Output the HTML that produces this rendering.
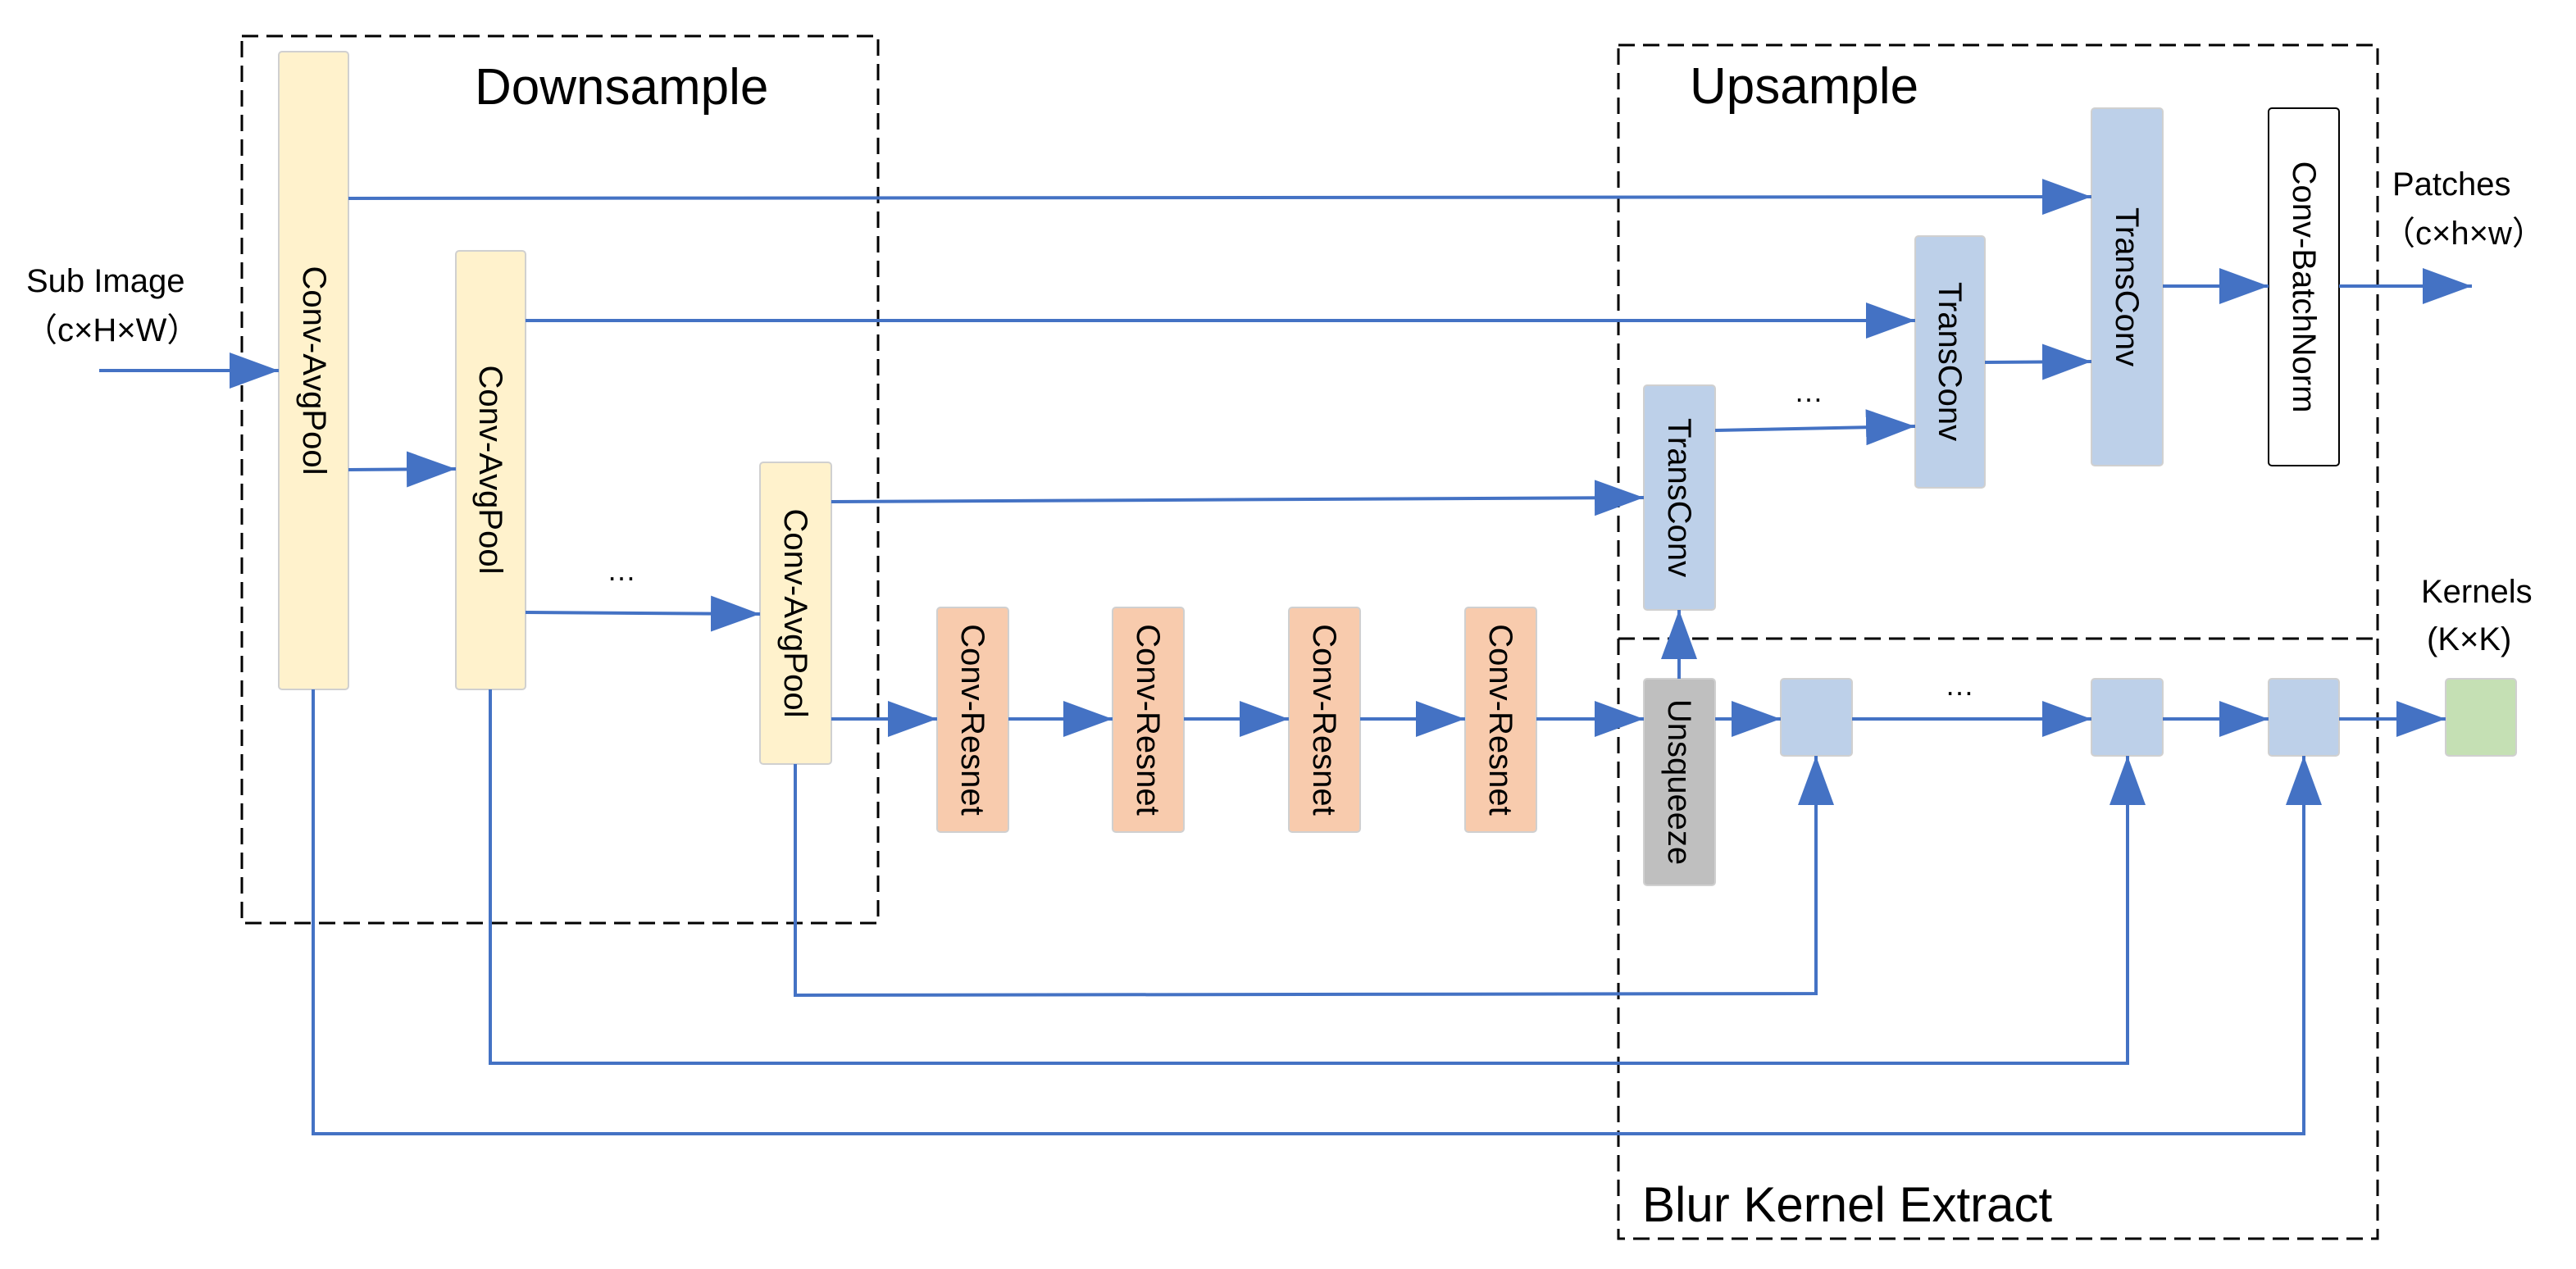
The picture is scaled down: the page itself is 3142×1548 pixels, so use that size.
<!DOCTYPE html>
<html><head><meta charset="utf-8"><style>
html,body{margin:0;padding:0;background:#fff;}
svg{display:block;}
text{font-family:"Liberation Sans","Noto Sans CJK SC",sans-serif;fill:#000;}
</style></head><body>
<svg width="3142" height="1548" viewBox="0 0 3142 1548" xmlns="http://www.w3.org/2000/svg">
<defs>
<marker id="a" viewBox="0 0 60 44" refX="60" refY="22" markerWidth="60" markerHeight="44" markerUnits="userSpaceOnUse" orient="auto">
<polygon points="0,0 60,22 0,44" fill="#4472c4"/></marker>
</defs>
<g fill="none" stroke="#000" stroke-width="3" stroke-dasharray="20,10">
<rect x="295" y="44" width="776" height="1082"/>
<rect x="1974" y="55" width="926" height="1456"/>
<line x1="1974" y1="779" x2="2900" y2="779"/>
</g>
<text x="579" y="127" font-size="62">Downsample</text>
<text x="2061" y="126" font-size="62">Upsample</text>
<text x="2003" y="1490" font-size="60">Blur Kernel Extract</text>
<text x="32" y="356" font-size="40">Sub Image</text>
<text x="30" y="416" font-size="40">（c×H×W）</text>
<text x="2918" y="238" font-size="40">Patches</text>
<text x="2906" y="298" font-size="40">（c×h×w）</text>
<text x="2953" y="735" font-size="40">Kernels</text>
<text x="2960" y="793" font-size="40">(K×K)</text>
<g stroke="#d0d0d0" stroke-width="2">
<rect x="340" y="63" width="85" height="778" rx="4" fill="#fff2cc"/>
<rect x="556" y="306" width="85" height="535" rx="4" fill="#fff2cc"/>
<rect x="927" y="564" width="87" height="368" rx="4" fill="#fff2cc"/>
<rect x="1143" y="741" width="87" height="274" rx="4" fill="#f8cbad"/>
<rect x="1357" y="741" width="87" height="274" rx="4" fill="#f8cbad"/>
<rect x="1572" y="741" width="87" height="274" rx="4" fill="#f8cbad"/>
<rect x="1787" y="741" width="87" height="274" rx="4" fill="#f8cbad"/>
<rect x="2005" y="828" width="87" height="252" rx="4" fill="#bfbfbf"/>
<rect x="2005" y="470" width="87" height="274" rx="4" fill="#bdd0e9"/>
<rect x="2336" y="288" width="85" height="307" rx="4" fill="#bdd0e9"/>
<rect x="2551" y="132" width="87" height="436" rx="4" fill="#bdd0e9"/>
<rect x="2172" y="828" width="87" height="94" rx="4" fill="#bdd0e9"/>
<rect x="2551" y="828" width="87" height="94" rx="4" fill="#bdd0e9"/>
<rect x="2767" y="828" width="86" height="94" rx="4" fill="#bdd0e9"/>
<rect x="2983" y="828" width="86" height="94" rx="4" fill="#c5e0b4"/>
</g>
<rect x="2767" y="132" width="86" height="436" rx="4" fill="#fff" stroke="#000" stroke-width="2"/>
<g font-size="40" text-anchor="middle" dominant-baseline="central">
<text transform="translate(383,452) rotate(90)">Conv-AvgPool</text>
<text transform="translate(598,573) rotate(90)">Conv-AvgPool</text>
<text transform="translate(970,748) rotate(90)">Conv-AvgPool</text>
<text transform="translate(1186,878) rotate(90)">Conv-Resnet</text>
<text transform="translate(1400,878) rotate(90)">Conv-Resnet</text>
<text transform="translate(1615,878) rotate(90)">Conv-Resnet</text>
<text transform="translate(1830,878) rotate(90)">Conv-Resnet</text>
<text transform="translate(2048,954) rotate(90)">Unsqueeze</text>
<text transform="translate(2048,607) rotate(90)">TransConv</text>
<text transform="translate(2378,441) rotate(90)">TransConv</text>
<text transform="translate(2594,350) rotate(90)">TransConv</text>
<text transform="translate(2810,350) rotate(90)">Conv-BatchNorm</text>
</g>
<g font-size="36">
<text x="740" y="708">…</text>
<text x="2188" y="490">…</text>
<text x="2372" y="848">…</text>
</g>
<g stroke="#4472c4" stroke-width="4" fill="none" marker-end="url(#a)">
<line x1="121" y1="452" x2="340" y2="452"/>
<line x1="425" y1="242" x2="2551" y2="240"/>
<line x1="425" y1="573" x2="556" y2="572"/>
<line x1="641" y1="391" x2="2336" y2="391"/>
<line x1="641" y1="747" x2="927" y2="749"/>
<line x1="1014" y1="612" x2="2005" y2="607"/>
<line x1="1014" y1="877" x2="1143" y2="877"/>
<line x1="1230" y1="877" x2="1357" y2="877"/>
<line x1="1444" y1="877" x2="1572" y2="877"/>
<line x1="1659" y1="877" x2="1787" y2="877"/>
<line x1="1874" y1="877" x2="2005" y2="877"/>
<line x1="2092" y1="877" x2="2172" y2="877"/>
<line x1="2259" y1="877" x2="2551" y2="877"/>
<line x1="2638" y1="877" x2="2767" y2="877"/>
<line x1="2853" y1="877" x2="2983" y2="877"/>
<line x1="2048" y1="828" x2="2048" y2="744"/>
<line x1="2092" y1="525" x2="2336" y2="520"/>
<line x1="2421" y1="442" x2="2551" y2="441"/>
<line x1="2638" y1="349" x2="2767" y2="349"/>
<line x1="2853" y1="349" x2="3015" y2="349"/>
<polyline points="970,932 970,1214 2215,1212 2215,922"/>
<polyline points="598,841 598,1297 2595,1297 2595,922"/>
<polyline points="382,841 382,1383 2810,1383 2810,922"/>
</g>
</svg>
</body></html>
